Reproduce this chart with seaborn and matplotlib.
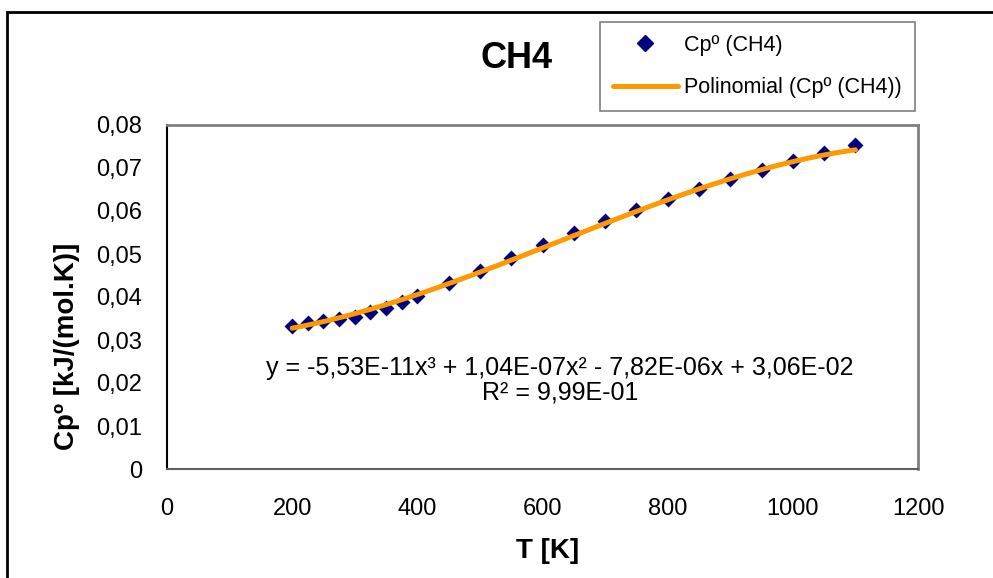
import numpy as np
import pandas as pd
import matplotlib
matplotlib.use("Agg")
import matplotlib.pyplot as plt
from matplotlib.lines import Line2D
from matplotlib.patches import Rectangle
from matplotlib.ticker import FuncFormatter, MultipleLocator
import seaborn as sns

# Heat capacity of methane vs temperature
temperature_K = [200, 225, 250, 275, 300, 325, 350, 375, 400, 450, 500, 550,
                 600, 650, 700, 750, 800, 850, 900, 950, 1000, 1050, 1100]
cp_kJ_molK = [0.03326, 0.03395, 0.03442, 0.03488, 0.03535, 0.03651, 0.03744,
              0.03884, 0.04023, 0.04326, 0.04605, 0.04907, 0.05209, 0.05488,
              0.05767, 0.06023, 0.06279, 0.06512, 0.06744, 0.06953, 0.07163,
              0.07349, 0.07535]

# Cubic trendline coefficients (highest power first) and its R²
poly_coeffs = [-5.53e-11, 1.04e-07, -7.82e-06, 3.06e-02]
r_squared = 0.999

series_label = "Cpº (CH4)"
trend_label = "Polinomial (Cpº (CH4))"

sns.set_theme(style="white")
plt.rcParams["font.family"] = ["Liberation Sans", "DejaVu Sans"]
plt.rcParams["text.color"] = "black"
plt.rcParams["axes.labelcolor"] = "black"
plt.rcParams["xtick.color"] = "black"
plt.rcParams["ytick.color"] = "black"

fig = plt.figure(figsize=(9.93, 5.78), dpi=100)
ax = fig.add_axes([167 / 993, 1 - 469 / 578, 751 / 993, 344 / 578])

df = pd.DataFrame({"T": temperature_K, "Cp": cp_kJ_molK})
t_fit = np.linspace(min(temperature_K), max(temperature_K), 300)
df_fit = pd.DataFrame({"T": t_fit, "Cp": np.polyval(poly_coeffs, t_fit)})

sns.scatterplot(data=df, x="T", y="Cp", ax=ax, marker="D", s=66,
                color="#000080", linewidth=0, zorder=2)
sns.lineplot(data=df_fit, x="T", y="Cp", ax=ax, color="#FF9900",
             linewidth=3.6, zorder=3)

ax.set_xlim(0, 1200)
ax.set_ylim(0, 0.08)
ax.xaxis.set_major_locator(MultipleLocator(200))
ax.yaxis.set_major_locator(MultipleLocator(0.01))
ax.yaxis.set_major_formatter(FuncFormatter(
    lambda v, p: "0" if abs(v) < 1e-12 else f"{v:.2f}".replace(".", ",")))
ax.xaxis.set_major_formatter(FuncFormatter(lambda v, p: f"{v:.0f}"))

ax.tick_params(axis="both", direction="out", length=5, width=1,
               colors="black", labelsize=17)
ax.tick_params(axis="x", pad=16)
ax.tick_params(axis="y", pad=13)
for side in ("top", "right"):
    ax.spines[side].set_color("#808080")
    ax.spines[side].set_linewidth(2)
ax.spines["left"].set_color("black")
ax.spines["left"].set_linewidth(1.5)
ax.spines["bottom"].set_color("#606060")
ax.spines["bottom"].set_linewidth(1.5)

ax.set_xlabel("T [K]", fontsize=20, fontweight="bold")
ax.set_ylabel("Cpº [kJ/(mol.K)]", fontsize=20, fontweight="bold")
ax.xaxis.set_label_coords((548 - 167) / 751, (469 - 551) / 344)
ax.xaxis.label.set_va("center")
ax.yaxis.set_label_coords((67 - 167) / 751, (469 - 346) / 344)
ax.yaxis.label.set_va("center")

fig.text(517 / 993, 1 - 58 / 578, "CH4", fontsize=26, fontweight="bold",
         ha="center", va="center")

eq = "y = -5,53E-11x³ + 1,04E-07x² - 7,82E-06x + 3,06E-02"
ax.text(628, 0.0235, eq, fontsize=18, ha="center", va="center")
ax.text(628, 0.0177, f"R² = {r_squared:.2E}".replace(".", ","),
        fontsize=18, ha="center", va="center")

handles = [
    Line2D([], [], marker="D", color="#000080", linestyle="none", markersize=8),
    Line2D([], [], color="#FF9900", linewidth=3.6),
]
leg = fig.legend(handles, [series_label, trend_label],
                 loc="upper left", bbox_to_anchor=(600 / 993, 1 - 22 / 578),
                 bbox_transform=fig.transFigure, fontsize=15.5, frameon=True,
                 fancybox=False, edgecolor="#808080", framealpha=1,
                 handlelength=3.0, handletextpad=0.3, labelspacing=1.0,
                 borderpad=0.6, borderaxespad=0)
leg.get_frame().set_linewidth(1.2)

# Outer chart-area border
fig.patches.append(Rectangle((7 / 993, -0.05), 1.2, 1.05 - 12 / 578,
                             transform=fig.transFigure, fill=False,
                             edgecolor="black", linewidth=2))

fig.savefig("out.png", dpi=100)
